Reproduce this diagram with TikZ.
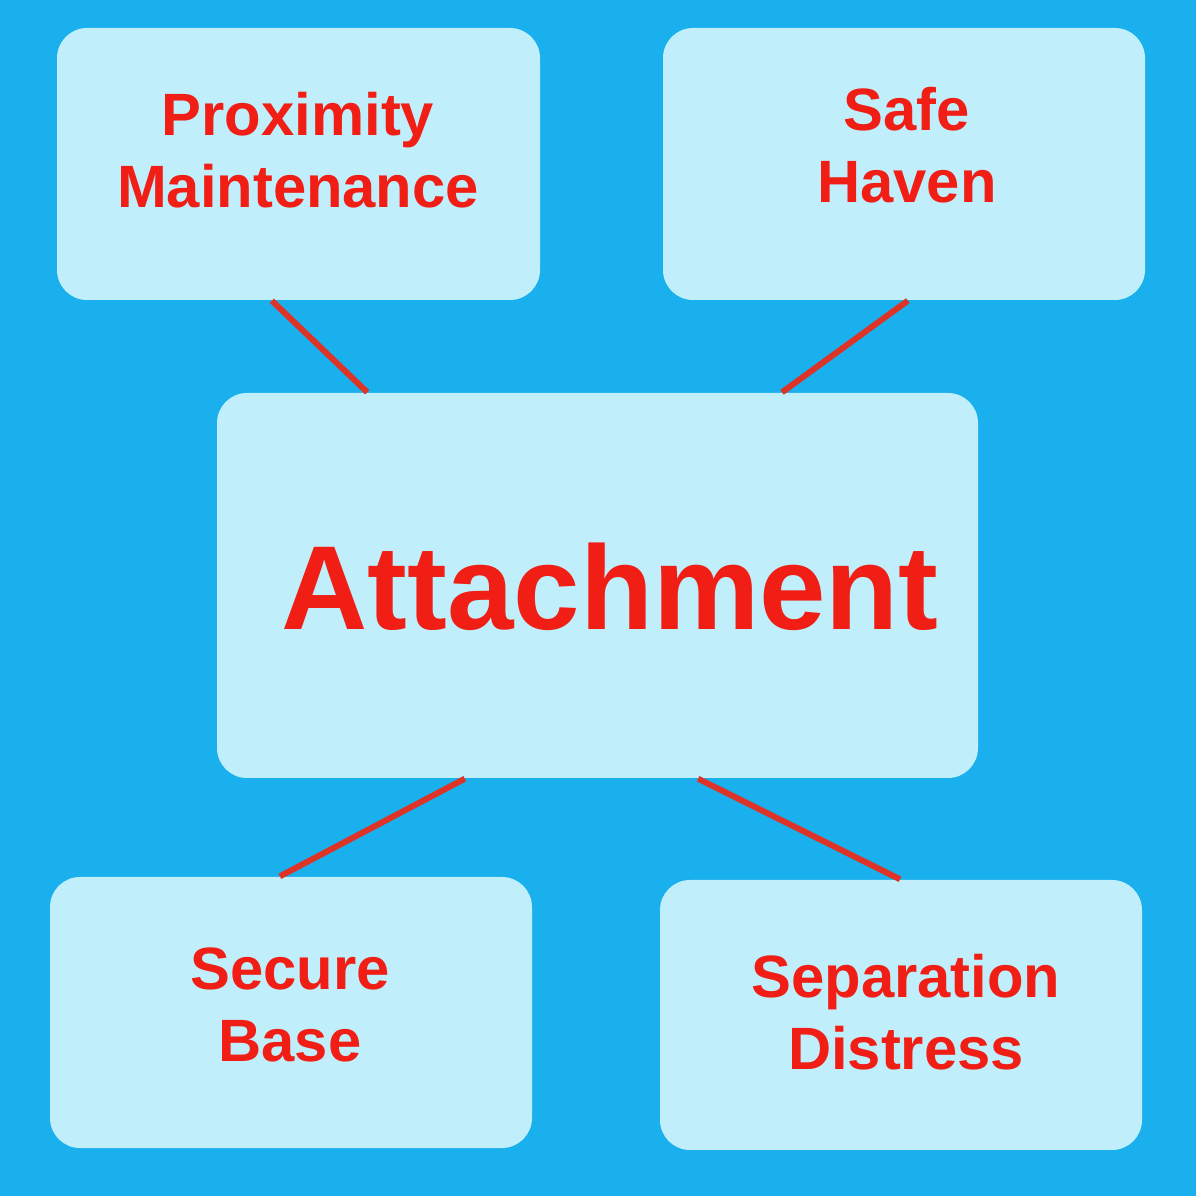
\documentclass[tikz,border=0pt]{standalone}
\usepackage{fontspec}
\setmainfont{Liberation Sans}
\usetikzlibrary{calc}
\definecolor{bgblue}{RGB}{26,175,237}
\definecolor{boxblue}{RGB}{192,238,250}
\definecolor{txtred}{RGB}{240,30,20}
\definecolor{linered}{RGB}{222,52,40}
\tikzset{
  boxnode/.style={rectangle, fill=boxblue, rounded corners=0.3cm, inner sep=0pt},
  smalllabel/.style={text=txtred, align=center, inner sep=0pt, font=\fontsize{17}{20.4}\selectfont\bfseries},
  biglabel/.style={text=txtred, inner sep=0pt, font=\fontsize{34}{40}\selectfont\bfseries},
  link/.style={draw=linered, line width=1.7pt}
}
\begin{document}
\begin{tikzpicture}
\useasboundingbox (0,0) rectangle (12,12);
\fill[white] (0,0) rectangle (12,12);
\fill[bgblue] (0,0.04) rectangle (11.96,12);

\node[boxnode, minimum width=4.83cm, minimum height=2.72cm] (pm) at (2.985,10.36) {};
\node[boxnode, minimum width=4.82cm, minimum height=2.72cm] (sh) at (9.04,10.36) {};
\node[boxnode, minimum width=7.61cm, minimum height=3.85cm] (at) at (5.975,6.145) {};
\node[boxnode, minimum width=4.82cm, minimum height=2.71cm] (sb) at (2.91,1.875) {};
\node[boxnode, minimum width=4.82cm, minimum height=2.70cm] (sd) at (9.01,1.85) {};

\node[smalllabel] (pmt) at (2.98,10.5) {Proximity\\Maintenance};
\node[smalllabel] (sht) at (9.07,10.55) {Safe\\Haven};
\node[biglabel] (att) at (6.10,6.13) {Attachment};
\node[smalllabel] (sbt) at (2.90,1.95) {Secure\\Base};
\node[smalllabel] (sdt) at (9.06,1.88) {Separation\\Distress};

\draw[link] ($(pm.south west)!0.445!(pm.south east)$) -- ($(at.north west)!0.198!(at.north east)$);
\draw[link] ($(sh.south west)!0.508!(sh.south east)$) -- ($(at.north west)!0.742!(at.north east)$);
\draw[link] ($(at.south west)!0.326!(at.south east)$) -- ($(sb.north west)!0.477!(sb.north east)$);
\draw[link] ($(at.south west)!0.632!(at.south east)$) -- ($(sd.north west)!0.498!(sd.north east)$);
\end{tikzpicture}
\end{document}
